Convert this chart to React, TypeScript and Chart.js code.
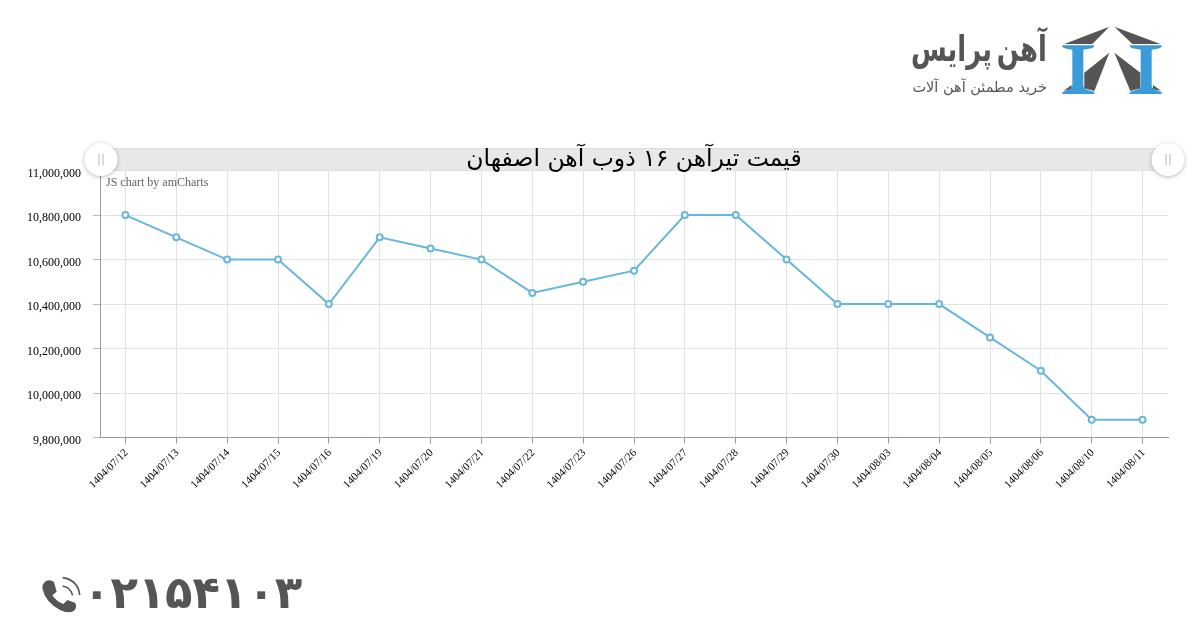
import React, { useEffect, useRef } from "react";
import { Chart, registerables } from "chart.js";

Chart.register(...registerables);

const categories = ["1404/07/12","1404/07/13","1404/07/14","1404/07/15","1404/07/16","1404/07/19","1404/07/20","1404/07/21","1404/07/22","1404/07/23","1404/07/26","1404/07/27","1404/07/28","1404/07/29","1404/07/30","1404/08/03","1404/08/04","1404/08/05","1404/08/06","1404/08/10","1404/08/11"];
const prices = [10800000,10700000,10600000,10600000,10400000,10700000,10650000,10600000,10450000,10500000,10550000,10800000,10800000,10600000,10400000,10400000,10400000,10250000,10100000,9880000,9880000];
const chartTitle = "قیمت تیرآهن ۱۶ ذوب آهن اصفهان";
const credit = "JS chart by amCharts";
const brand = "آهن پرایس";
const slogan = "خرید مطمئن آهن آلات";
const phoneA = "۰۲۱";
const phoneB = "۵۴۱۰۳";

const SERIF = '"Liberation Serif", serif';
const PERSIAN = '"DejaVu Sans", sans-serif';

function grip(ctx: CanvasRenderingContext2D, x: number, y: number) {
  ctx.save();
  ctx.shadowColor = "rgba(0,0,0,0.28)";
  ctx.shadowBlur = 4;
  ctx.shadowOffsetY = 1;
  ctx.fillStyle = "#fff";
  ctx.beginPath();
  ctx.arc(x, y, 16.5, 0, Math.PI * 2);
  ctx.fill();
  ctx.restore();
  ctx.strokeStyle = "#b5b5b5";
  ctx.lineWidth = 1;
  ctx.beginPath();
  ctx.moveTo(x - 2, y - 6); ctx.lineTo(x - 2, y + 6);
  ctx.moveTo(x + 2, y - 6); ctx.lineTo(x + 2, y + 6);
  ctx.stroke();
}

const bandPlugin = {
  id: "band",
  beforeDraw(chart: any) {
    const { ctx, chartArea } = chart;
    ctx.save();
    ctx.fillStyle = "#e8e8e8";
    ctx.strokeStyle = "#dcdcdc";
    ctx.fillRect(chartArea.left + 1, chartArea.top - 22, chartArea.width - 13, 22);
    ctx.strokeRect(chartArea.left + 1, chartArea.top - 22, chartArea.width - 13, 22);
    ctx.restore();
  },
  afterDraw(chart: any) {
    const { ctx, chartArea } = chart;
    ctx.save();
    ctx.font = `12px ${SERIF}`;
    ctx.fillStyle = "#666";
    ctx.textBaseline = "middle";
    ctx.fillText(credit, chartArea.left + 6, chartArea.top + 12);
    grip(ctx, chartArea.left + 1, chartArea.top - 11);
    grip(ctx, chartArea.right, chartArea.top - 11);
    ctx.restore();
  },
};

export default function App() {
  const ref = useRef<HTMLCanvasElement | null>(null);

  useEffect(() => {
    document.body.style.margin = "0";
    document.body.style.background = "#fff";
    const chart = new Chart(ref.current as HTMLCanvasElement, {
      type: "line",
      data: {
        labels: categories,
        datasets: [{
          data: prices,
          borderColor: "#67b7dc",
          borderWidth: 2,
          backgroundColor: "#fff",
          pointBackgroundColor: "#fff",
          pointBorderColor: "#67b7dc",
          pointBorderWidth: 2,
          pointRadius: 3,
          tension: 0,
          clip: false,
        }],
      },
      options: {
        animation: false,
        responsive: false,
        layout: { padding: { top: 143, right: 32, left: 0, bottom: 0 } },
        plugins: {
          legend: { display: false },
          tooltip: { enabled: false },
          title: {
            display: true,
            text: chartTitle,
            fullSize: false,
            color: "#000",
            font: { family: PERSIAN, size: 23.5, weight: "normal", lineHeight: 1.175 },
            padding: { top: 3, bottom: -3 },
          },
        },
        scales: {
          x: {
            offset: true,
            afterFit: (s: any) => { s.height = 203.5; },
            border: { color: "#999", width: 1 },
            grid: { color: "#e2e2e2", tickColor: "#999", tickLength: 6, offset: false },
            ticks: {
              autoSkip: false,
              minRotation: 45,
              maxRotation: 45,
              color: "#000",
              padding: 3,
              labelOffset: 1,
              font: { family: SERIF, size: 11 },
            },
          },
          y: {
            min: 9800000,
            max: 11000000,
            afterFit: (s: any) => { s.width = 100; },
            border: { color: "#999", width: 1 },
            grid: { color: "#e2e2e2", tickColor: "#bbb", tickLength: 7 },
            ticks: {
              stepSize: 200000,
              color: "#000",
              padding: 12,
              labelOffset: 3,
              font: { family: SERIF, size: 12 },
              callback: (v: any) => Number(v).toLocaleString("en-US"),
            },
          },
        },
      },
      plugins: [bandPlugin],
    } as any);
    return () => chart.destroy();
  }, []);

  const abs = (o: React.CSSProperties): React.CSSProperties => ({ position: "absolute", whiteSpace: "nowrap", ...o });
  const beam = "M22 76H118L114 84Q95 88 85 89V198Q85 208 118 216V222H22V216Q52 208 52 198V89Q32 87 22 81Z";

  return (
    <div style={{ position: "relative", width: 1200, height: 641, overflow: "hidden", background: "#fff" }}>
      <canvas ref={ref} width={1200} height={641} style={{ display: "block", width: 1200, height: 641 }} />

      <svg style={abs({ left: 1055, top: 20 })} width={115} height={80} viewBox="0 0 345 240">
        <g fill="#555">
          <polygon points="163,20 28,72 112,72" />
          <polygon points="178,20 316,72 232,72" />
          <polygon points="163,98 88,158 88,205 118,213" />
          <polygon points="178,98 256,158 256,205 226,213" />
          <polygon points="26,212 50,195 50,208" />
          <polygon points="318,212 294,195 294,208" />
        </g>
        <g fill="#3a9bd8">
          <path d={beam} />
          <path d={beam} transform="translate(342 0) scale(-1 1)" />
        </g>
      </svg>
      <div dir="rtl" style={abs({ right: 153, top: 25, font: `bold 36px ${PERSIAN}`, color: "#555", lineHeight: "48px", wordSpacing: -6, transform: "scaleX(0.72)", transformOrigin: "right center" })}>{brand}</div>
      <div dir="rtl" style={abs({ right: 153, top: 78, font: `14.5px ${PERSIAN}`, color: "#555", lineHeight: "18px" })}>{slogan}</div>

      <svg style={abs({ left: 30, top: 560 })} width={100} height={70} viewBox="0 0 300 210">
        <path fill="#555" d="M45 65Q60 56 72 66L80 95L67 106Q80 125 100 132L112 120L135 128Q143 140 132 152Q116 162 90 150Q45 126 37 85Q37 72 45 65Z" />
        <path d="M98 78Q122 82 128 106" fill="none" stroke="#555" strokeWidth="5" />
        <path d="M98 53Q144 60 149 105" fill="none" stroke="#555" strokeWidth="5" />
      </svg>
      <div style={abs({ left: 83, top: 565, font: `bold 45px ${PERSIAN}`, color: "#555", lineHeight: "56px" })}>{phoneA}</div>
      <div style={abs({ left: 165, top: 565, font: `bold 45px ${PERSIAN}`, color: "#555", lineHeight: "56px" })}>{phoneB}</div>
    </div>
  );
}
